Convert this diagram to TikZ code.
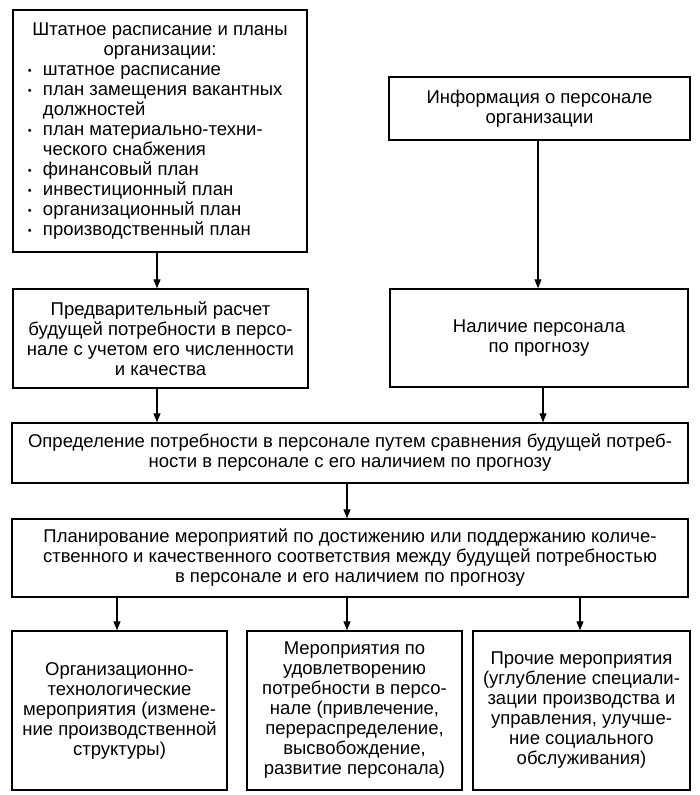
\documentclass[tikz,border=0pt]{standalone}
\usepackage{fontspec}
\setmainfont{Liberation Sans}
\usetikzlibrary{arrows.meta}
\newcommand\mybul{\leavevmode\llap{\makebox[20pt][l]{\hspace{5pt}\raisebox{1pt}{\fontsize{11}{11}\selectfont\textbullet}}}}
\begin{document}
\begin{tikzpicture}[x=1pt,y=-1pt,
  box/.style={draw, line width=1.4pt, inner sep=0pt, align=center, font=\fontsize{18.5}{20}\selectfont},
  arr/.style={line width=1.1pt, -{Triangle[length=9pt,width=7pt]}}]
\useasboundingbox (0,0) rectangle (700,795);
\node[box, minimum width=294pt, minimum height=242pt] (A) at (160,131) {%
\begin{minipage}{274pt}\centering Штатное расписание и планы\\организации:\par
\raggedright\leftskip=20pt
\mybul штатное расписание\par
\mybul план замещения вакантных\\должностей\par
\mybul план материально-техни-\\ческого снабжения\par
\mybul финансовый план\par
\mybul инвестиционный план\par
\mybul организационный план\par
\mybul производственный план\par
\end{minipage}};
\node[box, minimum width=301pt, minimum height=63pt] (B) at (539.5,108.5) {Информация о персонале\\организации};
\node[box, minimum width=295pt, minimum height=99pt] (C) at (160.5,338.5) {Предварительный расчет\\будущей потребности в персо-\\нале с учетом его численности\\и качества};
\node[box, minimum width=298pt, minimum height=98pt] (D) at (539,338) {Наличие персонала\\по прогнозу};
\node[box, minimum width=676pt, minimum height=60pt] (E) at (350,453) {Определение потребности в персонале путем сравнения будущей потреб-\\ности в персонале с его наличием по прогнозу};
\node[box, minimum width=676pt, minimum height=78pt] (F) at (350,558) {Планирование мероприятий по достижению или поддержанию количе-\\ственного и качественного соответствия между будущей потребностью\\в персонале и его наличием по прогнозу};
\node[box, minimum width=215pt, minimum height=159pt] (G1) at (119.5,710.5) {Организационно-\\технологические\\мероприятия (измене-\\ние производственной\\структуры)};
\node[box, minimum width=215pt, minimum height=159pt] (G2) at (354.5,710.5) {Мероприятия по\\удовлетворению\\потребности в персо-\\нале (привлечение,\\перераспределение,\\высвобождение,\\развитие персонала)};
\node[box, minimum width=217pt, minimum height=159pt] (G3) at (581.5,710.5) {Прочие мероприятия\\(углубление специали-\\зации производства и\\управления, улучше-\\ние социального\\обслуживания)};
\coordinate (xa) at (157,0);
\coordinate (xb) at (538,0);
\coordinate (xd) at (543,0);
\coordinate (xe) at (347,0);
\coordinate (xg1) at (117,0);
\coordinate (xg3) at (580,0);
\draw[arr] (A.south -| xa) -- (C.north -| xa);
\draw[arr] (B.south -| xb) -- (D.north -| xb);
\draw[arr] (C.south -| xa) -- (E.north -| xa);
\draw[arr] (D.south -| xd) -- (E.north -| xd);
\draw[arr] (E.south -| xe) -- (F.north -| xe);
\draw[arr] (F.south -| xg1) -- (G1.north -| xg1);
\draw[arr] (F.south -| xe) -- (G2.north -| xe);
\draw[arr] (F.south -| xg3) -- (G3.north -| xg3);
\end{tikzpicture}
\end{document}
